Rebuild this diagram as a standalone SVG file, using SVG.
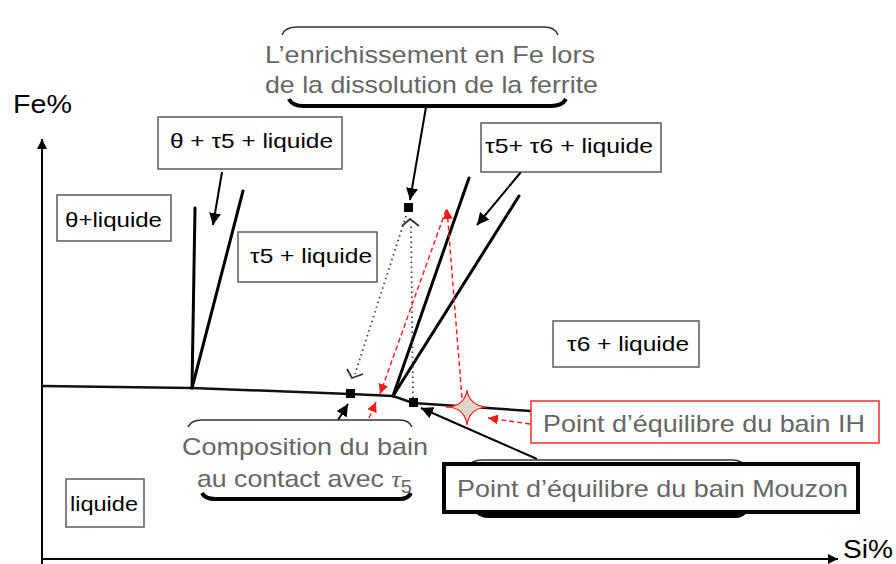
<svg xmlns="http://www.w3.org/2000/svg" width="896" height="564" viewBox="0 0 896 564">
<style>
  .box{fill:#fff;stroke:#5a5a66;stroke-width:1.5}
  .lbl{font-family:"Liberation Sans",Arial,sans-serif;font-size:21px;fill:#000}
  .gray{font-family:"Liberation Sans",Arial,sans-serif;font-size:24px;fill:#666}
  .ax{font-family:"Liberation Sans",Arial,sans-serif;font-size:25px;fill:#000}
  .phase{fill:none;stroke:#000;stroke-width:3;stroke-linecap:round}
  .liq{fill:none;stroke:#111;stroke-width:2.5}
  .arr{fill:none;stroke:#000;stroke-width:2}
  .red{fill:none;stroke:#ff1a1a;stroke-width:1.4;stroke-dasharray:5,3}
  .dot{fill:none;stroke:#444;stroke-width:1.8;stroke-dasharray:1.5,3.5}
  .chev{fill:none;stroke:#333;stroke-width:1.8}
  .brtop{fill:none;stroke:#333;stroke-width:1.5}
  .brbot{fill:none;stroke:#000;stroke-width:4}
</style>
<defs>
  <marker id="ah" markerUnits="userSpaceOnUse" markerWidth="14" markerHeight="12" refX="12" refY="6" orient="auto">
    <path d="M0,0 L12,6 L0,12 Z" fill="#000"/>
  </marker>
  <marker id="axh" markerUnits="userSpaceOnUse" markerWidth="12" markerHeight="10" refX="10" refY="5" orient="auto">
    <path d="M0,0 L10,5 L0,10 Z" fill="#000"/>
  </marker>
  <marker id="rh" markerUnits="userSpaceOnUse" markerWidth="12" markerHeight="10" refX="10" refY="5" orient="auto">
    <path d="M0,0 L10,5 L0,10 Z" fill="#ff1a1a"/>
  </marker>
</defs>
<rect width="896" height="564" fill="#fff"/>

<!-- axes -->
<g id="axes">
  <line x1="42" y1="564" x2="42" y2="139" stroke="#000" stroke-width="2" marker-end="url(#axh)"/>
  <line x1="41" y1="559" x2="838" y2="559" stroke="#000" stroke-width="2" marker-end="url(#axh)"/>
  <text class="ax" x="13" y="113" textLength="59" lengthAdjust="spacingAndGlyphs">Fe%</text>
  <text class="ax" x="843" y="558" font-size="23" textLength="50" lengthAdjust="spacingAndGlyphs">Si%</text>
</g>

<!-- phase boundaries -->
<g id="boundaries">
  <polyline class="liq" points="42,386 192,388 350,394 393,396 413,403 531,411"/>
  <line class="phase" x1="195" y1="208" x2="192" y2="388"/>
  <line class="phase" x1="192" y1="388" x2="243" y2="191"/>
  <line class="phase" x1="393" y1="396" x2="469" y2="178"/>
  <line class="phase" x1="393" y1="396" x2="519" y2="196"/>
</g>

<!-- connectors -->
<g id="connectors">
  <line class="arr" x1="222" y1="172" x2="213" y2="225" marker-end="url(#ah)"/>
  <line class="arr" x1="521" y1="172" x2="477" y2="225" marker-end="url(#ah)"/>
  <line class="arr" x1="426" y1="107" x2="410" y2="200" marker-end="url(#ah)"/>
  <line class="arr" x1="338" y1="420" x2="348" y2="404" marker-end="url(#ah)"/>
  <line class="arr" x1="537" y1="459" x2="421" y2="408" marker-end="url(#ah)"/>
  <!-- dotted -->
  <line class="dot" x1="406" y1="216" x2="355" y2="374"/>
  <polyline class="chev" points="347,369 352,378 363,374"/>
  <line class="dot" x1="413" y1="398" x2="411" y2="226"/>
  <polyline class="chev" points="402,226 410,219 419,226"/>
  <!-- red dashed -->
  <polyline class="red" points="462,398 456,323 447,209" marker-end="url(#rh)"/>
  <line class="red" x1="446" y1="210" x2="380" y2="394" marker-end="url(#rh)"/>
  <line class="red" x1="369" y1="418" x2="376" y2="402" marker-end="url(#rh)"/>
  <line class="red" x1="530" y1="424" x2="488" y2="418" marker-end="url(#rh)"/>
  <line x1="446" y1="407" x2="452" y2="407" stroke="#ff1a1a" stroke-width="1.5"/>
</g>

<!-- points -->
<g id="points">
  <rect x="404" y="203" width="9" height="9" fill="#000"/>
  <rect x="346" y="389" width="9" height="9" fill="#000"/>
  <rect x="409" y="398" width="9" height="9" fill="#000"/>
  <path d="M467,390 Q469,405 486,407 Q469,409 467,425 Q465,409 449,407 Q465,405 467,390 Z" fill="#dcd6c8" stroke="#ff1a1a" stroke-width="1.2"/>
</g>

<!-- phase labels -->
<g id="n-theta-t5-liq">
  <rect class="box" x="158" y="117" width="184" height="52"/>
  <text class="lbl" x="170" y="148" textLength="163" lengthAdjust="spacingAndGlyphs">θ + τ5 + liquide</text>
</g>
<g id="n-theta-liq">
  <rect class="box" x="57" y="195" width="114" height="46"/>
  <text class="lbl" x="65" y="227" textLength="97" lengthAdjust="spacingAndGlyphs">θ+liquide</text>
</g>
<g id="n-t5-liq">
  <rect class="box" x="238" y="232" width="139" height="50"/>
  <text class="lbl" x="250" y="263" textLength="122" lengthAdjust="spacingAndGlyphs">τ5 + liquide</text>
</g>
<g id="n-t5-t6-liq">
  <rect class="box" x="481" y="123" width="180" height="49"/>
  <text class="lbl" x="485" y="153" textLength="168" lengthAdjust="spacingAndGlyphs">τ5+ τ6 + liquide</text>
</g>
<g id="n-t6-liq">
  <rect class="box" x="553" y="321" width="146" height="46"/>
  <text class="lbl" x="567" y="351" textLength="122" lengthAdjust="spacingAndGlyphs">τ6 + liquide</text>
</g>
<g id="n-liq">
  <rect class="box" x="66" y="479" width="78" height="48"/>
  <text class="lbl" x="70" y="511" textLength="68" lengthAdjust="spacingAndGlyphs">liquide</text>
</g>

<!-- callouts -->
<g id="n-enrichissement">
  <path class="brtop" d="M282,35 Q285,27 297,27 L544,27 Q555,27 558,35"/>
  <path class="brbot" d="M289,99 Q292,106 304,106 L551,106 Q562,106 566,99"/>
  <text class="gray" x="265" y="63" textLength="330" lengthAdjust="spacingAndGlyphs">L’enrichissement en Fe lors</text>
  <text class="gray" x="265" y="93" textLength="333" lengthAdjust="spacingAndGlyphs">de la dissolution de la ferrite</text>
</g>
<g id="n-composition">
  <path class="brtop" d="M188,427 Q191,420 202,420 L400,420 Q409,420 412,427"/>
  <path class="brbot" d="M202,493 Q205,499 215,499 L400,499 Q408,499 411,493"/>
  <text class="gray" x="182" y="455" textLength="246" lengthAdjust="spacingAndGlyphs">Composition du bain</text>
  <text class="gray" x="197" y="487" textLength="215" lengthAdjust="spacingAndGlyphs">au contact avec <tspan font-family="Liberation Serif" font-style="italic">τ</tspan><tspan font-size="18" dy="6">5</tspan></text>
</g>
<g id="n-ih">
  <rect x="531" y="401" width="348" height="42" fill="#fff" stroke="#ff2a2a" stroke-width="1.5"/>
  <text class="gray" x="543" y="432" textLength="322" lengthAdjust="spacingAndGlyphs">Point d’équilibre du bain IH</text>
</g>
<g id="n-mouzon">
  <path class="brtop" d="M467,468 Q471,460 482,460 L733,460 Q742,460 746,468"/>
  <path class="brbot" d="M476,510 Q479,516 490,516 L735,516 Q743,516 746,510"/>
  <rect x="444" y="464" width="414" height="48" fill="#fff" stroke="#000" stroke-width="4"/>
  <text class="gray" x="457" y="497" textLength="391" lengthAdjust="spacingAndGlyphs">Point d’équilibre du bain Mouzon</text>
</g>
</svg>
